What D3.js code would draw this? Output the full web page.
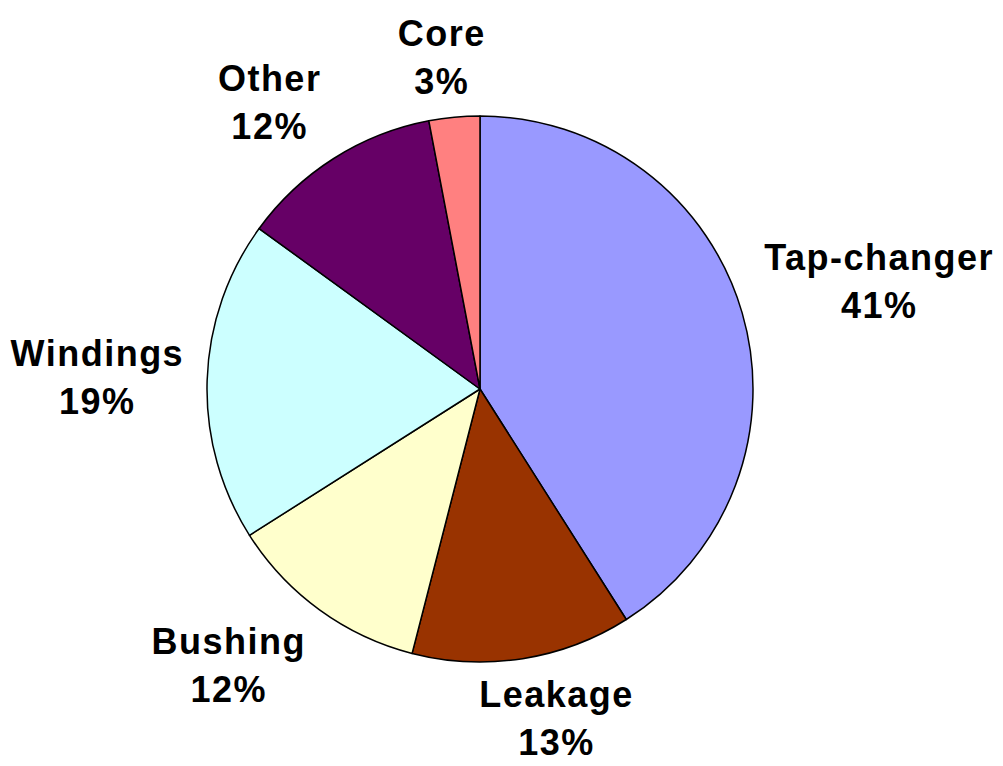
<!DOCTYPE html>
<html>
<head>
<meta charset="utf-8">
<script src="https://cdn.jsdelivr.net/npm/d3@7"></script>
<style>
  html, body { margin: 0; padding: 0; background: #fff; }
  text { font-family: "Liberation Sans", Arial, sans-serif; font-weight: bold; }
</style>
</head>
<body>
<div id="chart"></div>
<script>
// Failure causes (share of total), clockwise from 12 o'clock
const categories = ["Tap-changer", "Leakage", "Bushing", "Windings", "Other", "Core"];
const shares = [41, 13, 12, 19, 12, 3];
const colors = ["#9999FF", "#993300", "#FFFFCC", "#CCFFFF", "#660066", "#FF8080"];

const width = 1003, height = 766;
const cx = 480, cy = 389, radius = 273;

const svg = d3.select("#chart")
  .append("svg")
  .attr("width", width)
  .attr("height", height);

const data = categories.map((c, i) => ({ name: c, value: shares[i], color: colors[i] }));

const pie = d3.pie()
  .value(d => d.value)
  .sort(null);

const arcs = pie(data);

const arc = d3.arc()
  .innerRadius(0)
  .outerRadius(radius);

const g = svg.append("g")
  .attr("transform", `translate(${cx},${cy})`);

// Slices
g.selectAll("path")
  .data(arcs)
  .join("path")
  .attr("d", arc)
  .attr("fill", d => d.data.color)
  .attr("stroke", "#000")
  .attr("stroke-width", 1.5)
  .attr("stroke-linejoin", "round");

// Labels (Excel-like "outside end"): an anchor point sits a fixed gap
// outside the pie on the slice's mid-angle; the text box hangs off it,
// sliding along its edge depending on the angle
const fontSize = 36, lineGap = 48, labelDist = radius + 23, slide = 2.5;
const capHeight = 0.716 * fontSize;
const clamp = v => Math.max(-1, Math.min(1, v));

const labels = g.selectAll("g.label")
  .data(arcs)
  .join("g")
  .attr("class", "label");

labels.append("text")
  .attr("text-anchor", "middle")
  .style("font-size", fontSize + "px")
  .style("letter-spacing", "1.5px")
  .selectAll("tspan")
  .data(d => [d.data.name, d.data.value + "%"])
  .join("tspan")
  .attr("x", 0)
  .attr("y", (d, i) => i * lineGap)
  .text(d => d);

labels.each(function(d) {
  const bb = d3.select(this).select("text").node().getBBox();
  const mid = (d.startAngle + d.endAngle) / 2;
  const ux = Math.sin(mid), uy = -Math.cos(mid);
  // box from first line's cap top to last baseline
  const top = -capHeight, bottom = lineGap;
  const w = bb.width, h = bottom - top;
  const ox = bb.x + w / 2, oy = (top + bottom) / 2;
  const px = ux * labelDist, py = uy * labelDist;
  const bx = px + clamp(slide * ux) * w / 2;
  const by = py + clamp(slide * uy) * h / 2;
  d3.select(this).attr("transform", `translate(${bx - ox},${by - oy})`);
});
</script>
</body>
</html>
